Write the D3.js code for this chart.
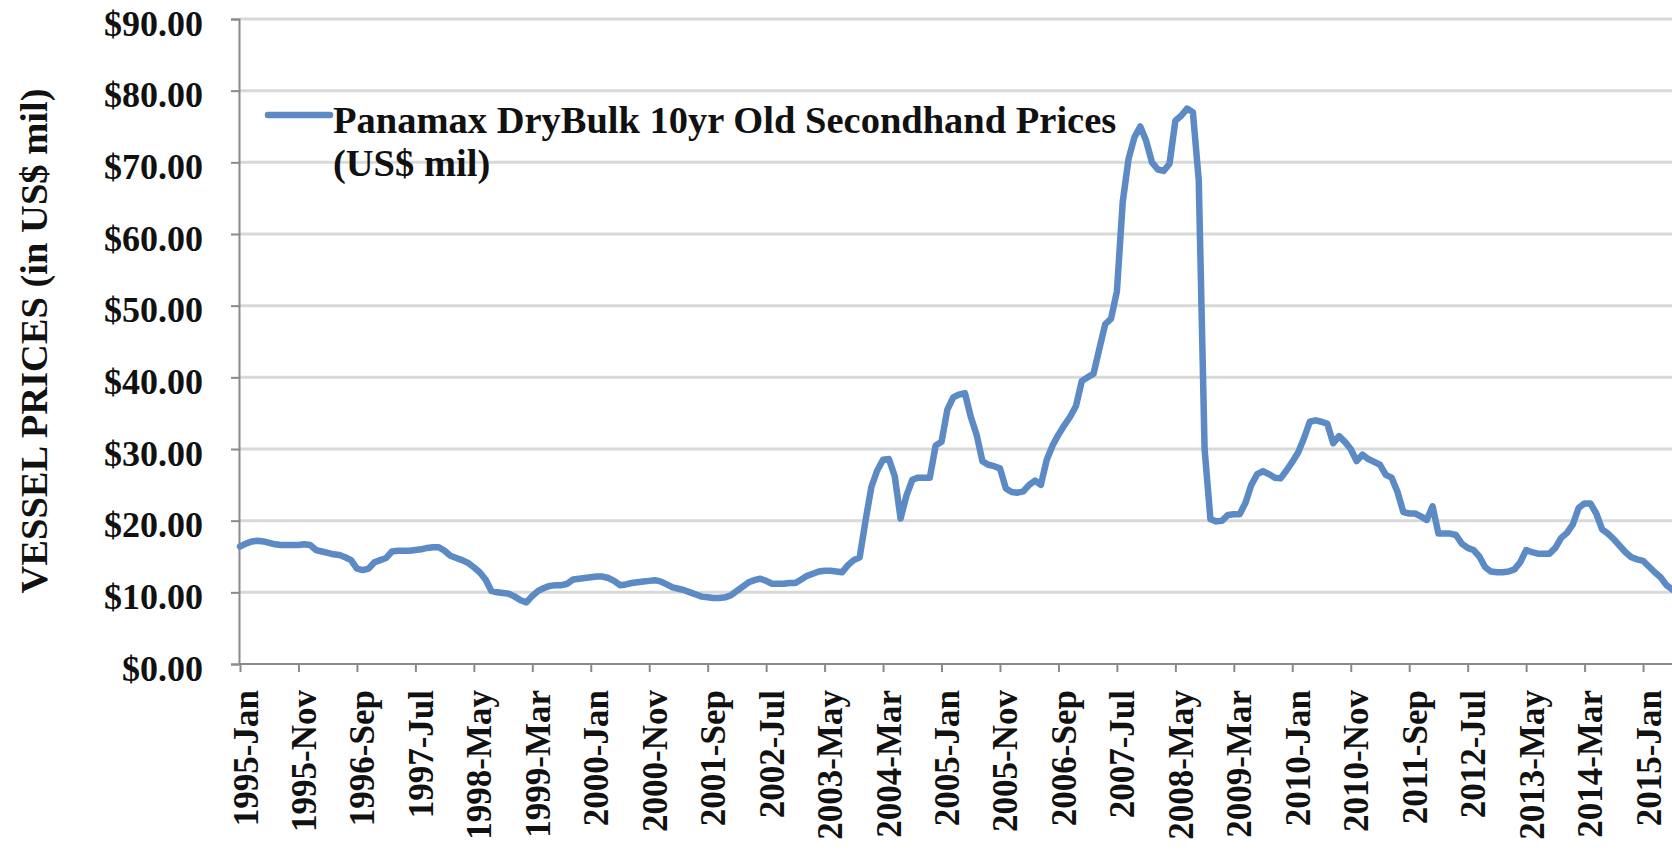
<!DOCTYPE html>
<html>
<head>
<meta charset="utf-8">
<script src="https://cdn.jsdelivr.net/npm/d3@7"></script>
<style>
  body { margin: 0; background: #fff; }
  svg { display: block; }
  text { font-family: "Liberation Serif", "Times New Roman", serif; font-weight: bold; fill: #111; }
</style>
</head>
<body>
<div class="mainContent"></div>
<script>
const w = 1672;
const h = 855;

// monthly prices, US$ mil, starting 1995-Jan
const startYear = 1995;
const monthNames = ['Jan','Feb','Mar','Apr','May','Jun','Jul','Aug','Sep','Oct','Nov','Dec'];
const prices = [
  16.4, 16.8, 17.1, 17.2, 17.1, 16.9, 16.7, 16.6, 16.6, 16.6, 16.6, 16.7,   // 1995
  16.6, 15.9, 15.7, 15.5, 15.3, 15.2, 14.9, 14.5, 13.3, 13.1, 13.3, 14.2,   // 1996
  14.5, 14.8, 15.7, 15.8, 15.8, 15.8, 15.9, 16.0, 16.2, 16.3, 16.3, 15.8,   // 1997
  15.1, 14.8, 14.5, 14.1, 13.5, 12.8, 11.8, 10.2, 10.0, 9.9, 9.8, 9.4,      // 1998
  8.9, 8.6, 9.5, 10.2, 10.6, 10.9, 11.0, 11.0, 11.2, 11.8, 11.9, 12.0,      // 1999
  12.1, 12.2, 12.2, 12.0, 11.6, 11.0, 11.1, 11.3, 11.4, 11.5, 11.6, 11.7,   // 2000
  11.5, 11.1, 10.7, 10.5, 10.3, 10.0, 9.7, 9.4, 9.3, 9.2, 9.2, 9.3,         // 2001
  9.6, 10.2, 10.8, 11.4, 11.7, 11.9, 11.6, 11.2, 11.2, 11.2, 11.3, 11.3,    // 2002
  11.8, 12.3, 12.6, 12.9, 13.0, 13.0, 12.9, 12.8, 13.8, 14.5, 14.9, 20.0,   // 2003
  24.7, 27.0, 28.5, 28.6, 26.2, 20.3, 23.5, 25.7, 26.0, 26.0, 26.0, 30.5,   // 2004
  31.0, 35.5, 37.2, 37.6, 37.8, 34.5, 32.0, 28.3, 27.8, 27.6, 27.3, 24.5,   // 2005
  24.0, 23.9, 24.1, 25.0, 25.6, 25.0, 28.5, 30.5, 32.0, 33.3, 34.5, 36.0,   // 2006
  39.5, 40.0, 40.5, 44.0, 47.4, 48.2, 52.0, 64.5, 70.5, 73.5, 75.0, 73.0,   // 2007
  70.0, 69.0, 68.8, 69.8, 75.8, 76.5, 77.5, 77.0, 67.5, 30.0, 20.2, 19.9,   // 2008
  20.0, 20.8, 20.9, 20.9, 22.5, 25.0, 26.5, 26.9, 26.5, 26.0, 25.9, 27.0,   // 2009
  28.2, 29.5, 31.5, 33.8, 34.0, 33.8, 33.5, 30.8, 31.8, 31.0, 30.0, 28.3,   // 2010
  29.2, 28.6, 28.2, 27.8, 26.4, 26.0, 24.0, 21.2, 21.0, 21.0, 20.6, 20.1,   // 2011
  22.0, 18.2, 18.2, 18.2, 18.0, 16.8, 16.2, 15.9, 15.0, 13.5, 12.9, 12.8,   // 2012
  12.8, 12.9, 13.2, 14.2, 15.9, 15.6, 15.4, 15.4, 15.4, 16.2, 17.6, 18.3,   // 2013
  19.5, 21.8, 22.4, 22.4, 21.0, 18.8, 18.2, 17.4, 16.5, 15.6, 14.9, 14.6,   // 2014
  14.4, 13.6, 12.8, 12.1, 11.0, 10.4, 9.9                                   // 2015
];
const categories = prices.map((d, i) => `${startYear + Math.floor(i / 12)}-${monthNames[i % 12]}`);
const tickEvery = 10;
const yTicks = [0, 10, 20, 30, 40, 50, 60, 70, 80, 90];
const seriesName = ['Panamax DryBulk 10yr Old Secondhand Prices', '(US$ mil)'];
const yTitle = 'VESSEL PRICES (in US$ mil)';

const plotLeft = 239;
const plotTop = 19;
const plotBottom = 664;
const step = 5.846;
const lineColor = '#5b8ac4';

const svg = d3.select('.mainContent')
    .append('svg')
    .attr('width', w)
    .attr('height', h);

const xScale = d3.scalePoint()
    .domain(categories)
    .range([plotLeft + 1, plotLeft + 1 + (categories.length - 1) * step]);

const yScale = d3.scaleLinear()
    .domain([0, 90])
    .range([plotBottom, plotTop]);

// gridlines
svg.append('g')
    .selectAll('line')
    .data(yTicks.slice(1))
    .enter()
    .append('line')
    .attr('x1', plotLeft)
    .attr('x2', w)
    .attr('y1', d => yScale(d))
    .attr('y2', d => yScale(d))
    .attr('stroke', '#d9d9d9')
    .attr('stroke-width', 3);

// x axis
const xAxis = d3.axisBottom(xScale)
    .tickValues(categories.filter((d, i) => i % tickEvery === 0))
    .tickSizeOuter(0)
    .tickSize(8);

const gx = svg.append('g')
    .attr('transform', `translate(0,${plotBottom})`)
    .call(xAxis);
gx.select('.domain').attr('stroke', '#8a8a8a').attr('stroke-width', 2)
    .attr('d', `M${plotLeft},0H${w}`);
gx.selectAll('.tick line').attr('stroke', '#8a8a8a').attr('stroke-width', 2);
gx.selectAll('.tick text')
    .attr('transform', 'translate(17,26) rotate(-90)')
    .attr('text-anchor', 'end')
    .attr('x', 0)
    .attr('y', 0)
    .attr('dy', 0)
    .style('font-size', '35px')
    .style('font-family', '"Liberation Serif", serif')
    .style('font-weight', 'bold')
    .attr('fill', '#111');

// y axis
const yAxis = d3.axisLeft(yScale)
    .tickValues(yTicks)
    .tickFormat(d => '$' + d.toFixed(2))
    .tickSizeOuter(0)
    .tickSize(8)
    .tickPadding(28);

const gy = svg.append('g')
    .attr('transform', `translate(${plotLeft},0)`)
    .call(yAxis);
gy.select('.domain').attr('stroke', '#8a8a8a').attr('stroke-width', 2);
gy.selectAll('.tick line').attr('stroke', '#8a8a8a').attr('stroke-width', 2);
gy.selectAll('.tick text')
    .attr('dy', '0.45em')
    .style('font-size', '36px')
    .style('font-family', '"Liberation Serif", serif')
    .style('font-weight', 'bold')
    .attr('fill', '#111');

// y title
svg.append('text')
    .attr('transform', `translate(47,341) rotate(-90)`)
    .attr('text-anchor', 'middle')
    .style('font-size', '38.5px')
    .text(yTitle);

// the line
const line = d3.line()
    .x((d, i) => xScale(categories[i]))
    .y(d => yScale(d));

svg.append('path')
    .datum(prices)
    .attr('fill', 'none')
    .attr('stroke', lineColor)
    .attr('stroke-width', 6.5)
    .attr('stroke-linejoin', 'round')
    .attr('stroke-linecap', 'round')
    .attr('d', line);

// legend
const legend = svg.append('g');
legend.append('line')
    .attr('x1', 268).attr('x2', 330)
    .attr('y1', 115).attr('y2', 115)
    .attr('stroke', lineColor)
    .attr('stroke-width', 6.5)
    .attr('stroke-linecap', 'round');
legend.selectAll('text')
    .data(seriesName)
    .enter()
    .append('text')
    .attr('x', 333)
    .attr('y', (d, i) => 133 + i * 43)
    .style('font-size', '38.5px')
    .text(d => d);
</script>
</body>
</html>
